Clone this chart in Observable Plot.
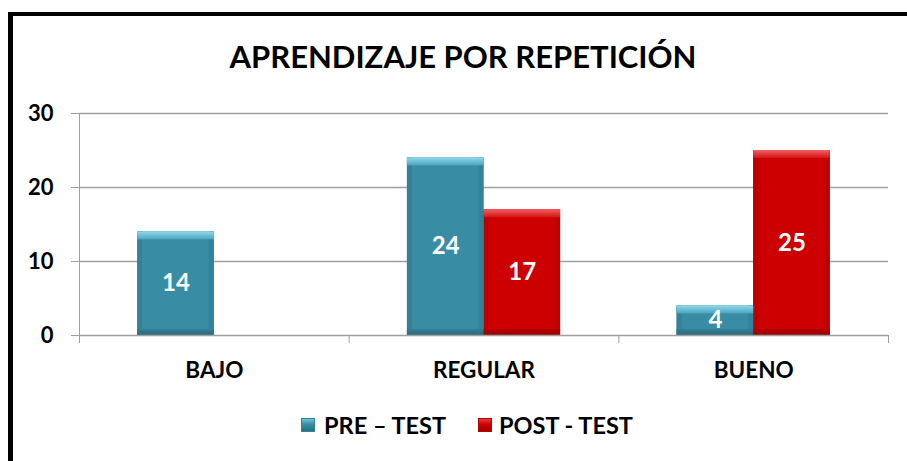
<!DOCTYPE html>
<html>
<head>
<meta charset="utf-8">
<script src="https://cdn.jsdelivr.net/npm/d3@7"></script>
<script src="https://cdn.jsdelivr.net/npm/@observablehq/plot@0.6"></script>
<style>
  body { margin: 0; background: #fff; }
  #wrap { position: relative; width: 907px; height: 461px; overflow: hidden; font-family: Lato, sans-serif; font-weight: 700; color: #000; background: #fff; }
  #border { position: absolute; left: 8px; top: 12px; width: 1000px; height: 600px; border-left: 5px solid #000; border-top: 4px solid #000; box-sizing: border-box; }
  #chart { position: absolute; left: 0; top: 0; }
  #title { position: absolute; left: 0; width: 926px; top: 41px; text-align: center; font-size: 31px; line-height: 31px; white-space: nowrap; }
  .leg { position: absolute; top: 413px; font-size: 23.5px; line-height: 24px; white-space: nowrap; }
  .sw { position: absolute; top: 5px; left: 0; width: 14px; height: 14px; box-sizing: border-box; }
  .leg span.t { position: absolute; top: 0; }
  #chart [aria-label^="y-axis"] text { fill: #000; }
  #chart [aria-label="bars"] { filter: drop-shadow(2px 2px 2px rgba(0,0,0,0.35)); }
</style>
</head>
<body>
<svg width="0" height="0" style="position:absolute">
  <defs>
    <linearGradient id="top0" x1="0" y1="0" x2="0" y2="1"><stop offset="0" stop-color="#8fd8ec"/><stop offset="1" stop-color="#4ba5be"/></linearGradient>
    <linearGradient id="top1" x1="0" y1="0" x2="0" y2="1"><stop offset="0" stop-color="#f46060"/><stop offset="1" stop-color="#d41414"/></linearGradient>
    <linearGradient id="bot0" x1="0" y1="0" x2="0" y2="1"><stop offset="0" stop-color="#347f94"/><stop offset="1" stop-color="#2a6a7c"/></linearGradient>
    <linearGradient id="bot1" x1="0" y1="0" x2="0" y2="1"><stop offset="0" stop-color="#b80000"/><stop offset="1" stop-color="#980000"/></linearGradient>
  </defs>
</svg>
<div id="wrap">
  <div id="border"></div>
  <div id="chart"></div>
  <div id="title"></div>
  <div id="legend"></div>
</div>
<script>
// ---- data ----
const title = "APRENDIZAJE POR REPETICIÓN";
const categories = ["BAJO", "REGULAR", "BUENO"];
const seriesNames = ["PRE – TEST", "POST - TEST"];
const preTest = [14, 24, 4];
const postTest = [null, 17, 25];
const yTicks = [0, 10, 20, 30];

// ---- styles ----
const mainColors = ["#388da4", "#cc0000"];
const topColors = ["#6cc4dd", "#e63a3a"];
const sideColors = ["#338298", "#bd0000"];
const bottomColors = ["#2a6f82", "#a00000"];

const rows = [];
categories.forEach((c, i) => {
  [preTest, postTest].forEach((arr, s) => {
    if (arr[i] != null) rows.push({cat: c, i, s, value: arr[i]});
  });
});

const gap = 0.216;   // empty fraction of each category band on the outer side
const left = d => d.i + (d.s ? 0.5 : gap);
const right = d => d.i + (d.s ? 1 - gap : 0.5);
const mid = d => (left(d) + right(d)) / 2;

const chart = Plot.plot({
  width: 907,
  height: 461,
  marginLeft: 79,
  marginRight: 19,
  marginTop: 113,
  marginBottom: 126,
  style: {fontFamily: "Lato, sans-serif", fontSize: "22px", fontWeight: "bold", color: "#a0a0a0", background: "transparent", overflow: "visible"},
  x: {domain: [0, categories.length], ticks: d3.range(categories.length + 1), tickFormat: () => "", tickSize: 8, tickPadding: 0, label: null},
  y: {domain: [0, 30], ticks: yTicks, tickSize: 8, tickPadding: 18, line: true, label: null, tickFormat: d => String(d)},
  marks: [
    Plot.ruleY(yTicks.filter(t => t > 0), {stroke: "#a0a0a0", strokeWidth: 1.5}),
    Plot.rect(rows, {x1: left, x2: right, y1: 0, y2: "value", fill: d => mainColors[d.s], ariaLabel: "bars"}),
    // side bevels
    Plot.rect(rows, {x1: left, x2: left, y1: 0, y2: "value", insetRight: -5, fill: d => sideColors[d.s]}),
    Plot.rect(rows, {x1: right, x2: right, y1: 0, y2: "value", insetLeft: -5, fill: d => sideColors[d.s]}),
    // top bevel
    Plot.rect(rows, {x1: left, x2: right, y1: "value", y2: "value", insetBottom: -8, fill: d => `url(#top${d.s})`}),
    // bottom bevel
    Plot.rect(rows, {x1: left, x2: right, y1: 0, y2: 0, insetTop: -6, fill: d => `url(#bot${d.s})`}),
    Plot.ruleY([0], {stroke: "#a0a0a0", strokeWidth: 1.5}),
    Plot.text(rows, {x: mid, y: d => d.value / 2, text: d => String(d.value), fill: "#fff", fontSize: 24, fontWeight: "bold"}),
    Plot.text(categories, {x: (d, i) => i + 0.5, y: 0, dy: 35, text: d => d, fill: "#000", fontSize: 22.5, fontWeight: "bold"})
  ]
});
document.getElementById("chart").appendChild(chart);
document.getElementById("title").textContent = title;

// legend
const legend = document.getElementById("legend");
const legLeft = [301, 478];
seriesNames.forEach((name, s) => {
  const item = document.createElement("div");
  item.className = "leg";
  item.style.left = legLeft[s] + "px";
  const sw = document.createElement("span");
  sw.className = "sw";
  sw.style.background = `linear-gradient(${topColors[s]}, ${mainColors[s]} 45%, ${bottomColors[s]})`;
  sw.style.border = `1px solid ${sideColors[s]}`;
  const t = document.createElement("span");
  t.className = "t";
  t.style.left = (s ? 21 : 23) + "px";
  t.textContent = name;
  item.appendChild(sw);
  item.appendChild(t);
  legend.appendChild(item);
});
</script>
</body>
</html>
